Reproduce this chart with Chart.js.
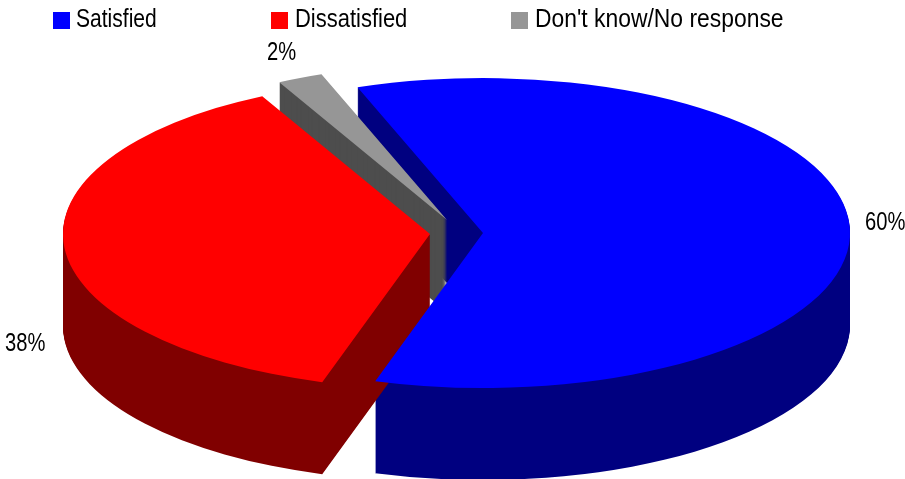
<!DOCTYPE html>
<html>
<head>
<meta charset="utf-8">
<title>Satisfaction pie</title>
<script src="https://cdn.jsdelivr.net/npm/chart.js@4"></script>
<style>
  html, body { margin: 0; padding: 0; background: #fff; }
  #wrap { width: 905px; height: 479px; }
</style>
</head>
<body>
<div id="wrap"><canvas id="pie" width="905" height="479"></canvas></div>
<script>
const categories = ["Satisfied", "Dissatisfied", "Don't know/No response"];
const values = [60.3, 37.7, 2];
const percentLabels = ["60%", "38%", "2%"];

const topColors = ["#0000ff", "#ff0000", "#969696"];
const sideColors = ["#000080", "#800000", "#4d4d4d"];

// the 3D look: flattened disc, pulled apart slices, stacked copies for the wall
const look = {
  centerX: 457, centerY: 234,
  radiusX: 367, radiusY: 155,
  depth: 92,
  pullX: [26, -27, -10],
  pullY: [-1, 0, -14],
  wallOrder: [0, 2, 1],
  topOrder: [2, 1, 0],
  legendBoxX: [53, 271, 511],
  legendTextX: [76, 295, 535],
  legendSqueeze: [0.81, 0.845, 0.88],
  labelX: [865, 5, 267],
  labelY: [230, 351, 60],
  labelSqueeze: 0.775
};

// source text is tall and narrow, so draw it squeezed sideways
function drawText(ctx, text, x, y, squeeze) {
  ctx.save();
  ctx.font = "26px 'Liberation Sans', Arial, sans-serif";
  ctx.fillStyle = "#000";
  ctx.textBaseline = "alphabetic";
  ctx.textAlign = "left";
  ctx.translate(x, y);
  ctx.scale(squeeze, 1);
  ctx.fillText(text, 0, 0);
  ctx.restore();
}

const pie3d = {
  id: "pie3d",
  beforeDatasetsDraw(chart) {
    const ctx = chart.ctx;
    const arcs = chart.getDatasetMeta(0).data;
    const r = arcs[0].outerRadius;
    const sx = look.radiusX / r;
    const sy = look.radiusY / r;

    const place = (arc, i, drop) => {
      ctx.save();
      ctx.translate(look.centerX + look.pullX[i], look.centerY + look.pullY[i] + drop);
      ctx.scale(sx, sy);
      ctx.translate(-arc.x, -arc.y);
    };

    look.wallOrder.forEach(i => {
      const arc = arcs[i];
      const own = arc.options;
      arc.options = {
        backgroundColor: sideColors[i], borderColor: sideColors[i], borderWidth: 0,
        borderAlign: "center", borderRadius: 0, spacing: 0, offset: 0, circular: true
      };
      for (let d = look.depth; d > 0; d--) {
        place(arc, i, d);
        arc.draw(ctx);
        ctx.restore();
      }
      arc.options = own;
    });

    look.topOrder.forEach(i => {
      place(arcs[i], i, 0);
      arcs[i].draw(ctx);
      ctx.restore();
    });
    return false; // slices are already painted
  },
  afterDraw(chart) {
    const ctx = chart.ctx;
    categories.forEach((name, i) => {
      ctx.fillStyle = topColors[i];
      ctx.fillRect(look.legendBoxX[i], 12, 17, 17);
      drawText(ctx, name, look.legendTextX[i], 27, look.legendSqueeze[i]);
    });
    percentLabels.forEach((label, i) => {
      drawText(ctx, label, look.labelX[i], look.labelY[i], look.labelSqueeze);
    });
  }
};

new Chart(document.getElementById("pie").getContext("2d"), {
  type: "pie",
  data: {
    labels: categories,
    datasets: [{
      data: values,
      backgroundColor: topColors,
      borderWidth: 0,
      rotation: -20
    }]
  },
  options: {
    responsive: false,
    animation: false,
    plugins: { legend: { display: false }, tooltip: { enabled: false } }
  },
  plugins: [pie3d]
});
</script>
</body>
</html>
